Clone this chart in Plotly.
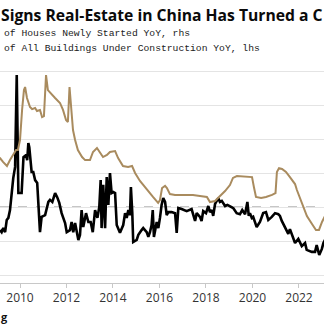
import plotly.graph_objects as go

# Floor space of all buildings under construction YoY (lhs, %)
constr_t = [2009.14, 2009.21, 2009.28, 2009.36, 2009.43, 2009.50, 2009.57, 2009.64, 2009.71, 2009.79,
            2009.86, 2009.93, 2010.07, 2010.15, 2010.26, 2010.31, 2010.36, 2010.40, 2010.46, 2010.50,
            2010.57, 2010.65, 2010.74, 2010.79, 2010.86, 2010.93, 2011.08, 2011.22, 2011.29, 2011.39,
            2011.51, 2011.60, 2011.69, 2011.79, 2011.94, 2012.01, 2012.15, 2012.22, 2012.29, 2012.37,
            2012.44, 2012.51, 2012.58, 2012.65, 2012.72, 2012.84, 2012.94, 2013.04, 2013.13, 2013.23,
            2013.33, 2013.41, 2013.47, 2013.51, 2013.58, 2013.66, 2013.73, 2013.80, 2013.87, 2013.94,
            2014.01, 2014.09, 2014.16, 2014.30, 2014.44, 2014.52, 2014.59, 2014.66, 2014.73, 2014.77,
            2014.83, 2014.87, 2015.02, 2015.09, 2015.23, 2015.30, 2015.45, 2015.52, 2015.59, 2015.66,
            2015.71, 2015.76, 2015.88, 2015.95, 2016.02, 2016.09, 2016.16, 2016.24, 2016.31, 2016.38,
            2016.52, 2016.67, 2016.74, 2016.81, 2016.95, 2017.17, 2017.38, 2017.45, 2017.53, 2017.60,
            2017.74, 2017.81, 2017.88, 2018.00, 2018.10, 2018.17, 2018.25, 2018.31, 2018.39, 2018.53,
            2018.60, 2018.68, 2018.82, 2018.92, 2019.06, 2019.17, 2019.32, 2019.46, 2019.56, 2019.68,
            2019.78, 2019.84, 2019.89, 2019.97, 2020.03, 2020.18, 2020.32, 2020.46, 2020.58, 2020.68,
            2020.83, 2020.97, 2021.11, 2021.18, 2021.26, 2021.40, 2021.54, 2021.61, 2021.75, 2021.83,
            2021.97, 2022.12, 2022.26, 2022.33, 2022.55, 2022.69, 2022.76, 2022.87, 2022.98, 2023.05,
            2023.16]
constr_v = [-6.8, -7.4, -6.2, -7.4, -3.8, -3.2, -0.9, 5.0, 8.5, 11.8,
            38.8, 4.1, 4.1, 14.7, 15.3, 13.8, 18.8, 17.6, 12.9, 10.3,
            10.3, 7.9, 7.1, 2.1, -7.4, -2.9, -2.4, 1.5, 2.1, 1.5,
            4.1, 2.9, 1.2, -1.8, -4.7, -7.4, -6.8, -4.4, -7.4, -4.7,
            -7.6, -9.7, -8.2, -0.9, -5.9, -1.8, -4.4, -4.4, -7.4, -0.9,
            -3.2, 0.0, 7.9, -6.2, 6.5, -6.2, 8.8, 0.6, 10.0, 4.1,
            4.4, 4.1, -5.3, -7.6, -5.3, -1.8, -3.2, -0.9, -2.4, 5.9,
            -1.8, -10.3, -9.7, -8.2, -6.8, -6.2, -7.4, -8.8, -7.4, -5.3,
            -0.9, -8.8, -4.4, -6.2, -3.2, 0.6, 2.6, 1.5, -2.4, -1.5,
            -1.5, -1.8, -7.6, -0.3, -0.6, -1.2, -0.6, -2.6, -4.1, -1.8,
            -2.9, -4.1, -1.2, -1.8, 0.3, -1.5, -0.9, -2.6, 0.9, 2.6,
            1.5, 1.8, 0.3, 0.6, 0.0, -0.3, -1.8, -2.1, -0.9, -2.1,
            1.5, -2.6, -1.8, -3.2, -2.9, -5.9, -4.4, -1.8, -1.5, -3.8,
            -2.9, -1.8, -2.1, -2.6, -4.1, -5.9, -7.9, -6.5, -9.1, -10.6,
            -9.4, -11.5, -10.6, -12.6, -13.2, -13.2, -11.2, -14.1, -12.4, -10.6,
            -9.1]

# Floor space of houses newly started YoY (rhs, %)
starts_t = [2009.05, 2009.14, 2009.27, 2009.44, 2009.57, 2009.70, 2009.83, 2009.91, 2010.00, 2010.09,
            2010.17, 2010.22, 2010.30, 2010.43, 2010.52, 2010.65, 2010.73, 2010.86, 2010.95, 2011.03,
            2011.12, 2011.20, 2011.38, 2011.51, 2011.72, 2011.85, 2011.98, 2012.06, 2012.13, 2012.19,
            2012.28, 2012.37, 2012.49, 2012.67, 2012.80, 2013.01, 2013.14, 2013.31, 2013.44, 2013.57,
            2013.74, 2013.87, 2014.09, 2014.22, 2014.43, 2014.65, 2014.82, 2014.95, 2015.16, 2015.46,
            2015.72, 2015.94, 2016.02, 2016.11, 2016.24, 2016.32, 2016.45, 2016.67, 2017.44, 2017.74,
            2018.04, 2018.17, 2018.39, 2018.56, 2018.82, 2019.03, 2019.16, 2019.33, 2019.76, 2019.98,
            2020.06, 2020.15, 2020.37, 2020.58, 2020.84, 2020.99, 2021.05, 2021.14, 2021.27, 2021.44,
            2021.61, 2021.83, 2021.91, 2022.13, 2022.34, 2022.56, 2022.73, 2022.86, 2022.99, 2023.16]
starts_v = [9.4, 8.8, 6.5, 4.1, 7.6, 10.6, 13.5, 13.5, 19.4, 37.1,
            48.8, 50.6, 44.1, 38.8, 37.6, 38.2, 36.5, 37.1, 32.9, 33.5,
            57.6, 48.8, 45.9, 44.1, 41.2, 37.1, 31.2, 30.0, 50.6, 38.8,
            25.3, 19.4, 13.5, 9.4, 7.6, 7.6, 12.4, 14.7, 12.4, 9.4,
            10.6, 12.4, 12.9, 8.8, 4.1, 3.5, 4.1, 0.0, -4.7, -10.0,
            -14.1, -17.6, -15.9, -8.8, -7.6, -8.8, -12.4, -12.9, -12.9, -13.5,
            -14.1, -17.1, -16.5, -14.1, -10.6, -7.1, -2.9, -1.8, -2.4, -2.4,
            -8.2, -14.1, -14.7, -14.1, -12.9, -11.8, 0.6, 2.9, 2.4, 0.6,
            -2.4, -6.5, -10.0, -17.6, -25.3, -30.0, -33.5, -33.5, -28.8, -24.1]

tick_years = [2010, 2012, 2014, 2016, 2018, 2020, 2022]
tick_labels = ["2010", "2012", "2014", "2016", "2018", "2020", "2022"]

W, H = 324, 327
TOP, BOT = 62, 283
PH = BOT - TOP

def px(x):
    return x / W

def py(y):
    return (BOT - y) / PH

fig = go.Figure()
fig.add_trace(go.Scatter(x=starts_t, y=starts_v, yaxis="y2", mode="lines",
                         line=dict(color="#a98b5e", width=2), showlegend=False))
fig.add_trace(go.Scatter(x=constr_t, y=constr_v, yaxis="y", mode="lines",
                         line=dict(color="#000000", width=2.6), showlegend=False))

fig.add_shape(type="line", xref="paper", yref="y", x0=0, x1=1, y0=0, y1=0,
              line=dict(color="#8c8c8c", width=1, dash="dash"), layer="below")

annots = [
    dict(text="<b>Signs Real-Estate in China Has Turned a C</b>", x=px(-1), y=py(15),
         font=dict(family="Open Sans", size=15.7, color="#0a0a0a")),
    dict(text="of Houses Newly Started YoY, rhs", x=px(2), y=py(33),
         font=dict(family="Liberation Mono", size=9.7, color="#222")),
    dict(text="of All Buildings Under Construction YoY, lhs", x=px(2), y=py(48),
         font=dict(family="Liberation Mono", size=9.7, color="#222")),
    dict(text="<b>g</b>", x=px(-1), y=py(316),
         font=dict(family="Open Sans", size=11, color="#111")),
]
for a in annots:
    fig.add_annotation(xref="paper", yref="paper", xanchor="left", yanchor="middle",
                       showarrow=False, **a)

fig.update_layout(
    width=W, height=H,
    margin=dict(l=0, r=0, t=TOP, b=H - BOT, pad=0),
    paper_bgcolor="white", plot_bgcolor="white",
    xaxis=dict(range=[2009.14, 2009.14 + W / 23.25], tickvals=tick_years, ticktext=tick_labels,
               showgrid=False, zeroline=False, showline=True, linecolor="#c8c8c8", linewidth=1,
               ticks="outside", ticklen=4, tickcolor="#c8c8c8",
               tickfont=dict(family="Open Sans", size=12, color="#333")),
    yaxis=dict(range=[-22.35, 42.65], tick0=0, dtick=10, showgrid=True, gridcolor="#e4e4e4",
               gridwidth=1, zeroline=False, showticklabels=False, ticks=""),
    yaxis2=dict(range=[-64.7, 65.3], overlaying="y", side="right", showgrid=False,
                zeroline=False, showticklabels=False, ticks=""),
)

fig.write_html("out.html")
